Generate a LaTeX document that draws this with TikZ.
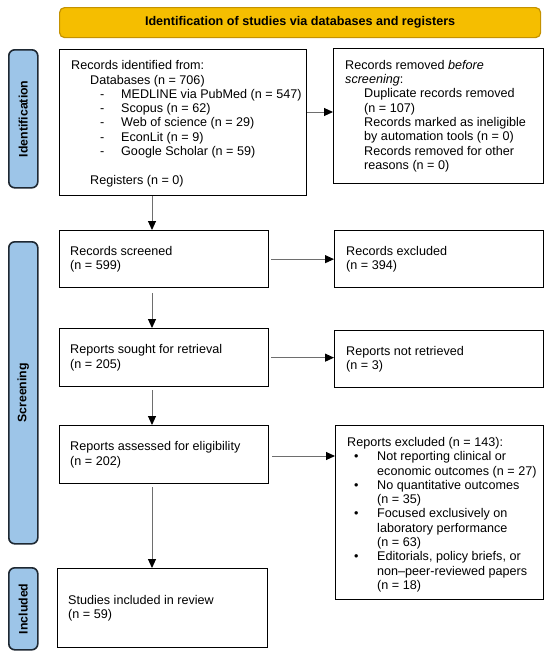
\documentclass[tikz,border=0pt]{standalone}
\usepackage{fontspec}
\setmainfont{Liberation Sans}
\usetikzlibrary{arrows.meta}
\definecolor{hdrfill}{RGB}{245,190,0}
\definecolor{hdrdraw}{RGB}{196,146,0}
\definecolor{sidefill}{RGB}{157,197,232}
\definecolor{sidedraw}{RGB}{30,40,50}
\definecolor{arrowgray}{RGB}{110,110,110}
\newcommand\ind[1]{\hspace*{#1pt}}
\newcommand\bul{\ind{7}\makebox[23pt][l]{•}}
\begin{document}
\begin{tikzpicture}[x=1pt,y=-1pt,
  box/.style={draw=black,line width=1.3pt,anchor=north west,inner sep=0pt},
  txt/.style={anchor=west,align=left,inner sep=0pt,font=\fontsize{12.6}{14.3}\selectfont},
  hdr/.style={draw=hdrdraw,fill=hdrfill,line width=1.2pt,rounded corners=5pt,anchor=north west,inner sep=0pt,font=\bfseries\fontsize{12.6}{14.3}\selectfont},
  side/.style={draw=sidedraw,fill=sidefill,line width=1.6pt,rounded corners=6pt,anchor=north west,inner sep=0pt},
  sidetxt/.style={rotate=90,inner sep=0pt,font=\bfseries\fontsize{12.3}{14}\selectfont},
  arr/.style={draw=arrowgray,line width=1pt,-{Triangle[length=9pt,width=8pt,color=black]}}
]
\useasboundingbox (0,0) rectangle (550,656);

% header
\node[hdr,minimum width=481pt,minimum height=30pt] (hdr) at (59,7) {Identification of studies via databases and registers};

% side labels
\node[side,minimum width=29pt,minimum height=138pt] (sidA) at (8,49) {};
\node[sidetxt] (sidAt) at (sidA.center) {Identification};
\node[side,minimum width=29pt,minimum height=302pt] (sidB) at (8,241) {};
\node[sidetxt] (sidBt) at (sidB.center) {Screening};
\node[side,minimum width=29pt,minimum height=82pt] (sidC) at (8,567) {};
\node[sidetxt] (sidCt) at (sidC.center) {Included};

% boxes
\node[box,minimum width=247pt,minimum height=146pt] (b1) at (59,49) {};
\node[txt] (b1t) at ([xshift=12pt,yshift=-1pt]b1.west) {Records identified from:\\
\ind{19}Databases (n = 706)\\
\ind{29}\makebox[21pt][l]{-}MEDLINE via PubMed (n = 547)\\
\ind{29}\makebox[21pt][l]{-}Scopus (n = 62)\\
\ind{29}\makebox[21pt][l]{-}Web of science (n = 29)\\
\ind{29}\makebox[21pt][l]{-}EconLit (n = 9)\\
\ind{29}\makebox[21pt][l]{-}Google Scholar (n = 59)\\[14.3pt]
\ind{19}Registers (n = 0)};

\node[box,minimum width=210pt,minimum height=135pt] (rm) at (333,48) {};
\node[txt] (rmt) at ([xshift=12pt]rm.west) {Records removed \textit{before}\\
\textit{screening}:\\
\ind{19}Duplicate records removed\\
\ind{19}(n = 107)\\
\ind{19}Records marked as ineligible\\
\ind{19}by automation tools (n = 0)\\
\ind{19}Records removed for other\\
\ind{19}reasons (n = 0)};

\node[box,minimum width=209pt,minimum height=57pt] (sc) at (59,230) {};
\node[txt] (sct) at ([xshift=11pt]sc.west) {Records screened\\(n = 599)};
\node[box,minimum width=209pt,minimum height=57pt] (ex) at (334,230) {};
\node[txt] (ext) at ([xshift=12pt]ex.west) {Records excluded\\(n = 394)};

\node[box,minimum width=209pt,minimum height=58pt] (so) at (59,328) {};
\node[txt] (sot) at ([xshift=11pt]so.west) {Reports sought for retrieval\\(n = 205)};
\node[box,minimum width=209pt,minimum height=57pt] (nr) at (334,330) {};
\node[txt] (nrt) at ([xshift=12pt]nr.west) {Reports not retrieved\\(n = 3)};

\node[box,minimum width=209pt,minimum height=58pt] (as) at (59,425) {};
\node[txt] (ast) at ([xshift=11pt]as.west) {Reports assessed for eligibility\\(n = 202)};
\node[box,minimum width=208pt,minimum height=174pt] (rx) at (335,425) {};
\node[txt] (rxt) at ([xshift=12pt,yshift=-2pt]rx.west) {Reports excluded (n = 143):\\
\bul Not reporting clinical or\\
\ind{30}economic outcomes (n = 27)\\
\bul No quantitative outcomes\\
\ind{30}(n = 35)\\
\bul Focused exclusively on\\
\ind{30}laboratory performance\\
\ind{30}(n = 63)\\
\bul Editorials, policy briefs, or\\
\ind{30}non–peer-reviewed papers\\
\ind{30}(n = 18)};

\node[box,minimum width=210pt,minimum height=79pt] (in) at (57,568) {};
\node[txt] (int) at ([xshift=11pt]in.west) {Studies included in review\\(n = 59)};

% connectors
\coordinate (ax) at (152,0);
\coordinate (ay) at (0,112);
\draw[arr] (b1.east |- ay) -- (rm.west |- ay);
\draw[arr] (b1.south -| ax) -- (sc.north -| ax);
\draw[arr] ([xshift=2pt]sc.east) -- (ex.west);
\draw[arr,shorten <=5pt] (sc.south -| ax) -- (so.north -| ax);
\draw[arr] ([xshift=2pt]so.east) -- (so.east -| nr.west);
\draw[arr,shorten <=3pt] (so.south -| ax) -- (as.north -| ax);
\coordinate (ay2) at (0,456);
\draw[arr] ([xshift=3pt]as.east |- ay2) -- (rx.west |- ay2);
\draw[arr,shorten <=3pt] (as.south -| ax) -- (in.north -| ax);
\end{tikzpicture}
\end{document}
